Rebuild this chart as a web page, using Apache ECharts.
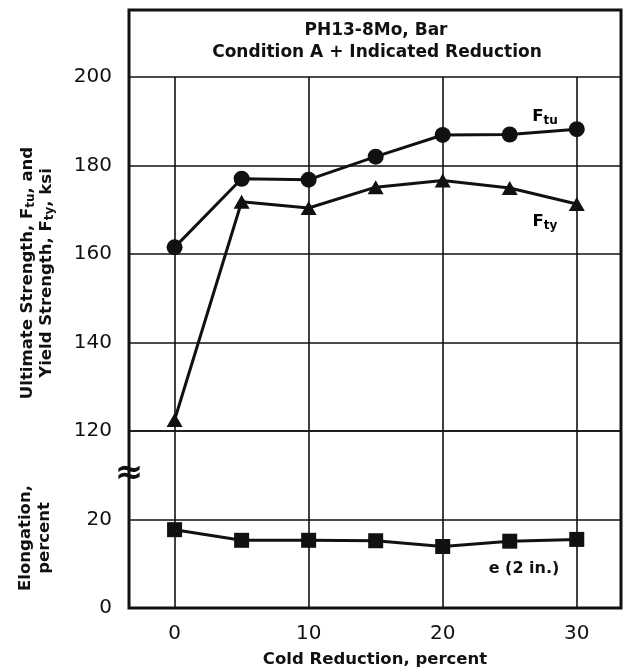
<!DOCTYPE html>
<html>
<head>
<meta charset="utf-8">
<title>PH13-8Mo, Bar</title>
<script src="https://cdn.jsdelivr.net/npm/echarts@6/dist/echarts.min.js"></script>
<style>
  html, body { margin: 0; padding: 0; background: #fff; }
  #chart { width: 628px; height: 671px; }
</style>
</head>
<body>
<div id="chart"></div>
<script>
// Cold reduction levels, percent
const reduction = [0, 5, 10, 15, 20, 25, 30];
// Ultimate tensile strength Ftu, ksi
const ftu = [161.5, 177.0, 176.8, 182.0, 186.9, 187.0, 188.2];
// Tensile yield strength Fty, ksi
const fty = [122.5, 171.8, 170.4, 175.1, 176.6, 174.9, 171.3];
// Elongation e (2 in.), percent
const elongation = [17.7, 15.3, 15.3, 15.2, 13.9, 15.1, 15.5];

// Tick labels
const xTicks = [0, 10, 20, 30];
const strengthTicks = [120, 140, 160, 180, 200];
const elongTicks = [0, 20];

const FONT = 'DejaVu Sans';
const INK = '#111';

const chart = echarts.init(document.getElementById('chart'), null, { renderer: 'canvas' });

const pairs = (ys) => reduction.map((x, i) => [x, ys[i]]);

const gridLine = { show: true, lineStyle: { color: INK, width: 1.6, type: 'solid' } };

const xAxisBase = {
  type: 'value',
  min: -3.4,
  max: 33.3,
  axisLine: { show: false },
  axisTick: { show: false, customValues: xTicks },
  splitLine: gridLine
};

const subRich = {
  m: { fontFamily: FONT, fontWeight: 'bold', fontSize: 16.5, color: INK, lineHeight: 19 },
  s: { fontFamily: FONT, fontWeight: 'bold', fontSize: 12, color: INK, lineHeight: 12, verticalAlign: 'bottom' }
};

const option = {
  backgroundColor: '#fff',
  animation: false,
  grid: [
    { left: 129, right: 7, top: 77, height: 354, outerBoundsMode: 'none', containLabel: false },
    { left: 129, right: 7, top: 431, height: 177, outerBoundsMode: 'none', containLabel: false }
  ],
  xAxis: [
    Object.assign({}, xAxisBase, {
      gridIndex: 0,
      axisLabel: { show: false, customValues: xTicks }
    }),
    Object.assign({}, xAxisBase, {
      gridIndex: 1,
      axisLabel: {
        show: true, customValues: xTicks, margin: 16,
        fontFamily: FONT, fontSize: 20, color: INK
      },
      name: 'Cold Reduction, percent',
      nameLocation: 'middle',
      nameGap: 43,
      nameTextStyle: { fontFamily: FONT, fontWeight: 'bold', fontSize: 16.5, color: INK }
    })
  ],
  yAxis: [
    {
      type: 'value', gridIndex: 0,
      min: strengthTicks[0], max: strengthTicks[strengthTicks.length - 1], interval: 20,
      axisLine: { show: false }, axisTick: { show: false },
      splitLine: gridLine,
      axisLabel: { margin: 17, fontFamily: FONT, fontSize: 20, color: INK }
    },
    {
      type: 'value', gridIndex: 1,
      min: elongTicks[0], max: 40, interval: 20,
      axisLine: { show: false }, axisTick: { show: false },
      splitLine: gridLine,
      axisLabel: {
        margin: 17, fontFamily: FONT, fontSize: 20, color: INK,
        showMaxLabel: false,
        formatter: (v) => (elongTicks.indexOf(v) >= 0 ? String(v) : '')
      }
    }
  ],
  series: [
    {
      name: 'Ftu', type: 'line', xAxisIndex: 0, yAxisIndex: 0,
      data: pairs(ftu), clip: false,
      symbol: 'circle', symbolSize: 16,
      lineStyle: { color: INK, width: 3 },
      itemStyle: { color: INK, borderWidth: 0 },
      z: 5
    },
    {
      name: 'Fty', type: 'line', xAxisIndex: 0, yAxisIndex: 0,
      data: pairs(fty), clip: false,
      symbol: 'triangle', symbolSize: [16, 14],
      lineStyle: { color: INK, width: 3 },
      itemStyle: { color: INK, borderWidth: 0 },
      z: 5
    },
    {
      name: 'e (2 in.)', type: 'line', xAxisIndex: 1, yAxisIndex: 1,
      data: pairs(elongation), clip: false,
      symbol: 'rect', symbolSize: 15,
      lineStyle: { color: INK, width: 3 },
      itemStyle: { color: INK, borderWidth: 0 },
      z: 5
    }
  ],
  graphic: [
    // outer frame around the plot and heading box
    {
      type: 'rect', z: 10,
      shape: { x: 129, y: 10, width: 492, height: 598 },
      style: { fill: null, stroke: INK, lineWidth: 3 }
    },
    // heading
    {
      type: 'text', z: 10, x: 376, y: 31,
      style: {
        text: 'PH13-8Mo, Bar', textAlign: 'center', textVerticalAlign: 'middle',
        fontFamily: FONT, fontWeight: 'bold', fontSize: 17, fill: INK
      }
    },
    {
      type: 'text', z: 10, x: 377, y: 53,
      style: {
        text: 'Condition A + Indicated Reduction', textAlign: 'center', textVerticalAlign: 'middle',
        fontFamily: FONT, fontWeight: 'bold', fontSize: 17, fill: INK
      }
    },
    // axis break marker
    {
      type: 'text', z: 11, x: 129, y: 474,
      style: {
        text: '≈', textAlign: 'center', textVerticalAlign: 'middle',
        fontFamily: FONT, fontWeight: 'bold', fontSize: 34, fill: INK
      }
    },
    // strength axis title
    {
      type: 'text', z: 10, x: 37, y: 273, rotation: Math.PI / 2,
      style: {
        text: '{m|Ultimate Strength, F}{s|tu}{m|, and}\n{m|Yield Strength, F}{s|ty}{m|, ksi}',
        rich: subRich, textAlign: 'center', textVerticalAlign: 'middle', fill: INK
      }
    },
    // elongation axis title
    {
      type: 'text', z: 10, x: 35, y: 538, rotation: Math.PI / 2,
      style: {
        text: '{m|Elongation,}\n{m|percent}',
        rich: subRich, textAlign: 'center', textVerticalAlign: 'middle', fill: INK
      }
    },
    // curve labels
    {
      type: 'text', z: 10, x: 545, y: 117,
      style: { text: '{m|F}{s|tu}', rich: subRich, textAlign: 'center', textVerticalAlign: 'middle' }
    },
    {
      type: 'text', z: 10, x: 545, y: 222,
      style: { text: '{m|F}{s|ty}', rich: subRich, textAlign: 'center', textVerticalAlign: 'middle' }
    },
    {
      type: 'text', z: 10, x: 524, y: 569,
      style: {
        text: 'e (2 in.)', textAlign: 'center', textVerticalAlign: 'middle',
        fontFamily: FONT, fontWeight: 'bold', fontSize: 16, fill: INK
      }
    }
  ]
};

chart.setOption(option);
</script>
</body>
</html>
